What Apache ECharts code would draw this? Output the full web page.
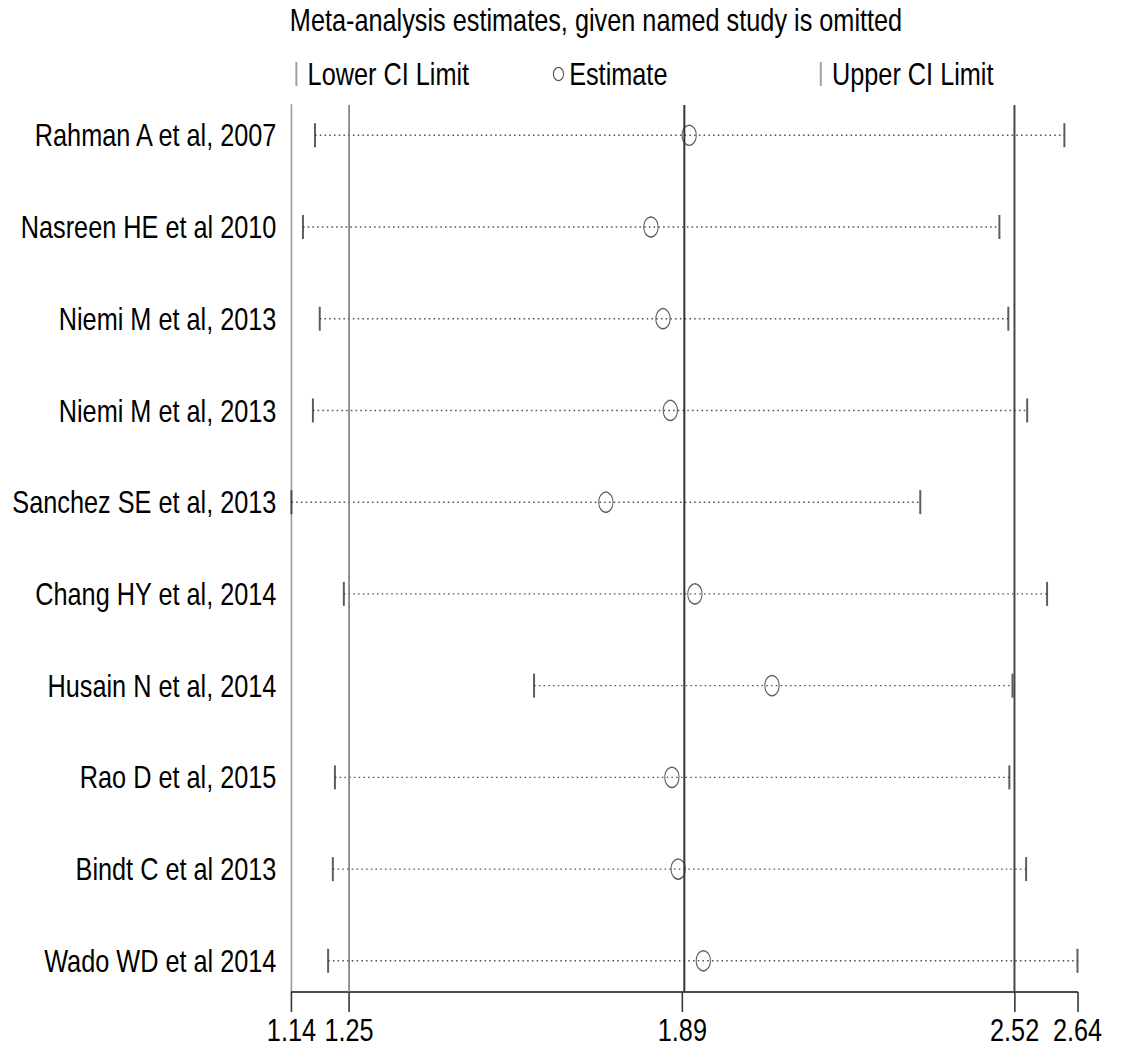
<!DOCTYPE html>
<html>
<head>
<meta charset="utf-8">
<script src="https://cdn.jsdelivr.net/npm/echarts@6/dist/echarts.min.js"></script>
<style>
html,body{margin:0;padding:0;background:#fff;overflow:hidden;width:1127px;height:1047px;}
#chart{width:1427px;height:1047px;transform:scaleX(0.78977);transform-origin:0 0;}
</style>
</head>
<body>
<div id="chart"></div>
<script>
const studies = [
  'Rahman A et al, 2007',
  'Nasreen HE et al 2010',
  'Niemi M et al, 2013',
  'Niemi M et al, 2013',
  'Sanchez SE et al, 2013',
  'Chang HY et al, 2014',
  'Husain N et al, 2014',
  'Rao D et al, 2015',
  'Bindt C et al 2013',
  'Wado WD et al 2014'
];
const lowerCI  = [1.185, 1.162, 1.194, 1.181, 1.140, 1.240, 1.603, 1.223, 1.219, 1.210];
const estimate = [1.899, 1.826, 1.849, 1.863, 1.740, 1.910, 2.057, 1.866, 1.878, 1.926];
const upperCI  = [2.615, 2.491, 2.508, 2.544, 2.340, 2.582, 2.516, 2.510, 2.542, 2.640];
const overall  = [1.25, 1.886, 2.52];
const xTicks   = [1.14, 1.25, 1.886, 2.52, 2.64];
const titleText = 'Meta-analysis estimates, given named study is omitted';

const FONT = "'Liberation Sans', Arial, sans-serif";
const FS = 32;
const rows = studies.map((s, i) => i + 1);

const chart = echarts.init(document.getElementById('chart'), null, {renderer: 'svg'});
const legendText = {fontFamily: FONT, fontSize: FS, color: '#000', padding: [0, 0, 0, 8]};
const legendBase = {
  orient: 'horizontal',
  top: 58,
  padding: 0,
  itemGap: 0,
  selectedMode: false
};
chart.setOption({
  animation: false,
  backgroundColor: '#fff',
  title: {
    text: titleText,
    left: 367,
    top: 4,
    padding: 0,
    textStyle: {fontFamily: FONT, fontSize: FS, fontWeight: 'normal', color: '#000'}
  },
  legend: [
    Object.assign({}, legendBase, {left: 374, data: [{name: 'Lower CI Limit', icon: 'rect', itemStyle: {color: '#888'}}], itemWidth: 2.5, itemHeight: 24, textStyle: legendText}),
    Object.assign({}, legendBase, {left: 700, data: [{name: 'Estimate', icon: 'circle', itemStyle: {color: 'transparent', borderColor: '#333', borderWidth: 1.3}}], itemWidth: 15, itemHeight: 13, textStyle: Object.assign({}, legendText, {padding: [0, 0, 0, 1]})}),
    Object.assign({}, legendBase, {left: 1038, data: [{name: 'Upper CI Limit', icon: 'rect', itemStyle: {color: '#888'}}], itemWidth: 2.5, itemHeight: 24, textStyle: legendText})
  ],
  grid: {left: 369, right: 62.7, top: 105, bottom: 55, containLabel: false, outerBoundsMode: 'none'},
  xAxis: {
    type: 'value',
    min: xTicks[0],
    max: xTicks[xTicks.length - 1],
    splitLine: {show: false},
    axisLine: {show: true, onZero: false, lineStyle: {color: '#111', width: 1.6}},
    axisTick: {show: true, customValues: xTicks, length: 20, lineStyle: {color: '#333', width: 2}},
    axisLabel: {
      customValues: xTicks,
      showMinLabel: true,
      showMaxLabel: true,
      hideOverlap: false,
      formatter: v => Number(v).toFixed(2),
      fontFamily: FONT, fontSize: FS, color: '#000', margin: 22
    }
  },
  yAxis: {
    type: 'value',
    inverse: true,
    min: 0.67,
    max: 10.34,
    splitLine: {show: false},
    axisLine: {show: true, onZero: false, lineStyle: {color: '#999', width: 2}},
    axisTick: {show: false},
    axisLabel: {
      customValues: rows,
      showMinLabel: true,
      showMaxLabel: true,
      formatter: v => studies[Math.round(v) - 1] || '',
      fontFamily: FONT, fontSize: FS, color: '#000', margin: 19
    }
  },
  series: [
    {
      name: 'CI',
      type: 'custom',
      silent: true,
      z: 1,
      data: studies.map((s, i) => [lowerCI[i], upperCI[i], i + 1]),
      encode: {x: [0, 1], y: 2},
      renderItem: (params, api) => {
        const y = api.value(2);
        const p1 = api.coord([api.value(0), y]);
        const p2 = api.coord([api.value(1), y]);
        return {
          type: 'line',
          shape: {x1: p1[0], y1: p1[1], x2: p2[0], y2: p2[1]},
          style: {stroke: '#555', lineWidth: 1.4, lineDash: [2, 4]}
        };
      },
      markLine: {
        silent: true,
        symbol: 'none',
        label: {show: false},
        data: [
          {xAxis: overall[0], lineStyle: {color: '#777', width: 2, type: 'solid'}},
          {xAxis: overall[1], lineStyle: {color: '#333', width: 2.5, type: 'solid'}},
          {xAxis: overall[2], lineStyle: {color: '#444', width: 2.5, type: 'solid'}}
        ]
      }
    },
    {
      name: 'Lower CI Limit',
      type: 'scatter',
      z: 3,
      symbol: 'rect',
      symbolSize: [2.5, 24],
      itemStyle: {color: '#333'},
      data: lowerCI.map((v, i) => [v, i + 1])
    },
    {
      name: 'Estimate',
      type: 'scatter',
      z: 4,
      symbol: 'circle',
      symbolSize: [18, 20],
      itemStyle: {color: 'transparent', borderColor: '#333', borderWidth: 1.4},
      data: estimate.map((v, i) => [v, i + 1])
    },
    {
      name: 'Upper CI Limit',
      type: 'scatter',
      z: 3,
      symbol: 'rect',
      symbolSize: [2.5, 24],
      itemStyle: {color: '#333'},
      data: upperCI.map((v, i) => [v, i + 1])
    }
  ]
});
</script>
</body>
</html>
